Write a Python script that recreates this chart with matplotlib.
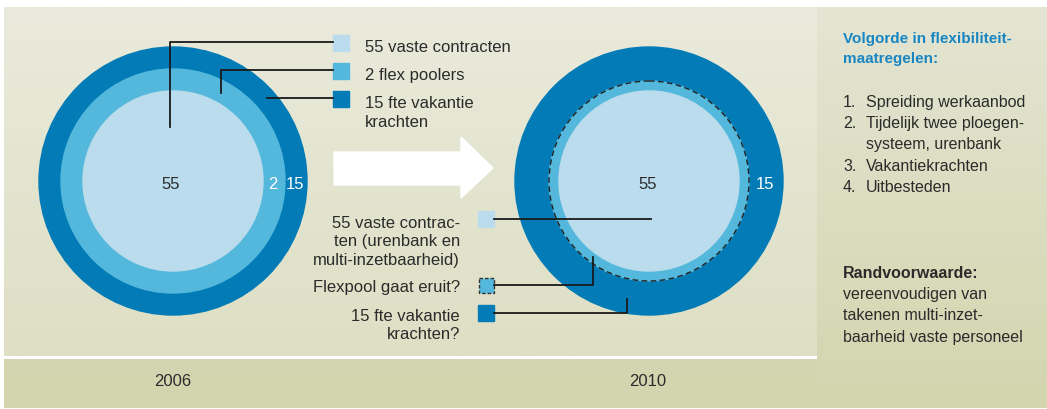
import numpy as np
import matplotlib.pyplot as plt
from matplotlib.patches import Circle, Rectangle, Polygon

# Data read from the infographic
years = ['2006', '2010']
counts_2006 = [55, 2, 15]          # vaste contracten, flex poolers, vakantiekrachten
counts_2010 = [55, 15]             # flexpool gaat eruit
legend_2006 = ['55 vaste contracten', '2 flex poolers', '15 fte vakantie\nkrachten']
legend_2010 = ['55 vaste contrac-\nten (urenbank en\nmulti-inzetbaarheid)',
               'Flexpool gaat eruit?', '15 fte vakantie\nkrachten?']
heading = ['Volgorde in flexibiliteit-', 'maatregelen:']
steps = [('1.', 'Spreiding werkaanbod'), ('2.', 'Tijdelijk twee ploegen-'),
         ('', 'systeem, urenbank'), ('3.', 'Vakantiekrachten'), ('4.', 'Uitbesteden')]
rand_title = 'Randvoorwaarde:'
rand_lines = ['vereenvoudigen van', 'takenen multi-inzet-', 'baarheid vaste personeel']

# Colours
DARK = '#027bb6'
MID = '#53b8dc'
LIGHT = '#badcec'
TXT = '#2b2b2b'
HEAD = '#1886c2'

plt.rcParams['font.family'] = ['Liberation Sans', 'DejaVu Sans']

W, H = 1047, 410
fig = plt.figure(figsize=(W / 100, H / 100), dpi=100)
ax = fig.add_axes([0, 0, 1, 1])
ax.set_xlim(0, W)
ax.set_ylim(H, 0)
ax.axis('off')


def gradient(x0, x1, y0, y1, c_top, c_bot, z=0):
    top = np.array(plt.matplotlib.colors.to_rgb(c_top))
    bot = np.array(plt.matplotlib.colors.to_rgb(c_bot))
    t = np.linspace(0, 1, 100)[:, None, None]
    img = top * (1 - t) + bot * t
    ax.imshow(img, extent=(x0, x1, y1, y0), aspect='auto', zorder=z, interpolation='bilinear')


# backgrounds
gradient(4, 817, 8, 357, '#e9eadb', '#dedfc4')
gradient(4, 818, 360, 409, '#d4d6b1', '#d3d5ae')
gradient(817, W, 8, 409, '#e4e5d3', '#d3d5ae')
ax.set_xlim(0, W)
ax.set_ylim(H, 0)

# 2006 circles
cx1, cy = 173, 182
for r, c in zip([134, 112, 90], [DARK, MID, LIGHT]):
    ax.add_patch(Circle((cx1, cy), r, color=c, zorder=2))
ax.text(cx1 - 2, 189, str(counts_2006[0]), ha='center', va='baseline', fontsize=12, color=TXT, zorder=5)
ax.text(273, 189, str(counts_2006[1]), ha='center', va='baseline', fontsize=12, color='white', zorder=5)
ax.text(295, 189, str(counts_2006[2]), ha='center', va='baseline', fontsize=12, color='white', zorder=5)

# 2010 circles
cx2 = 649
ax.add_patch(Circle((cx2, cy), 134, color=DARK, zorder=2))
ax.add_patch(Circle((cx2, cy), 100, color=MID, zorder=2))
ax.add_patch(Circle((cx2, cy), 100, fill=False, ec='#222222', lw=1.0, ls=(0, (4, 2.5)), zorder=3))
ax.add_patch(Circle((cx2, cy), 90, color=LIGHT, zorder=3))
ax.text(cx2 - 1, 189, str(counts_2010[0]), ha='center', va='baseline', fontsize=12, color=TXT, zorder=5)
ax.text(765, 189, str(counts_2010[1]), ha='center', va='baseline', fontsize=12, color='white', zorder=5)

# arrow
ax.add_patch(Polygon([(334, 153), (461, 153), (461, 138), (493, 169), (461, 199),
                      (461, 186), (334, 186)], closed=True, color='white', zorder=2))

lw = 1.3
# 2006 legend
sq_y = [36, 64, 92]
for y, c in zip(sq_y, [LIGHT, MID, DARK]):
    ax.add_patch(Rectangle((333, y), 16, 16, color=c, zorder=4))
ax.plot([333, 170, 170], [43, 43, 128], color='#1a1a1a', lw=lw, zorder=4)
ax.plot([333, 221, 221], [71, 71, 94], color='#1a1a1a', lw=lw, zorder=4)
ax.plot([333, 267], [99, 99], color='#1a1a1a', lw=lw, zorder=4)
base_y = [52, 80, 108]
for y, lab in zip(base_y, legend_2006):
    for i, line in enumerate(lab.split('\n')):
        ax.text(365, y + i * 19, line, ha='left', va='baseline', fontsize=12, color=TXT, zorder=5)

# 2010 legend
ax.add_patch(Rectangle((478, 212), 16, 16, color=LIGHT, zorder=4))
ax.add_patch(Rectangle((478.5, 278.5), 15, 15, fc=MID, ec='#333333', lw=1.0, ls=(0, (2.5, 1.5)), zorder=4))
ax.add_patch(Rectangle((478, 306), 16, 16, color=DARK, zorder=4))
ax.plot([494, 651], [220, 220], color='#1a1a1a', lw=lw, zorder=4)
ax.plot([494, 593, 593], [286, 286, 258], color='#1a1a1a', lw=lw, zorder=4)
ax.plot([494, 627, 627], [314, 314, 300], color='#1a1a1a', lw=lw, zorder=4)
base_y2 = [228, 292, 321]
for y, lab in zip(base_y2, legend_2010):
    for i, line in enumerate(lab.split('\n')):
        ax.text(460, y + i * 18.5, line, ha='right', va='baseline', fontsize=12, color=TXT, zorder=5)

# years
for x, yr in zip([173, 648], years):
    ax.text(x, 386, yr, ha='center', va='baseline', fontsize=12, color=TXT, zorder=5)

# right panel
for i, line in enumerate(heading):
    ax.text(843, 43 + i * 20.5, line, ha='left', va='baseline', fontsize=11,
            fontweight='bold', color=HEAD, zorder=5)
for i, (num, line) in enumerate(steps):
    y = 107 + i * 21.2
    ax.text(843, y, num, ha='left', va='baseline', fontsize=11.5, color=TXT, zorder=5)
    ax.text(866, y, line, ha='left', va='baseline', fontsize=11.5, color=TXT, zorder=5)
ax.text(843, 278, rand_title, ha='left', va='baseline', fontsize=11.5, fontweight='bold', color=TXT, zorder=5)
for i, line in enumerate(rand_lines):
    ax.text(843, 299 + i * 21.3, line, ha='left', va='baseline', fontsize=11.5, color=TXT, zorder=5)

fig.savefig('out.png', dpi=100, facecolor='white')
